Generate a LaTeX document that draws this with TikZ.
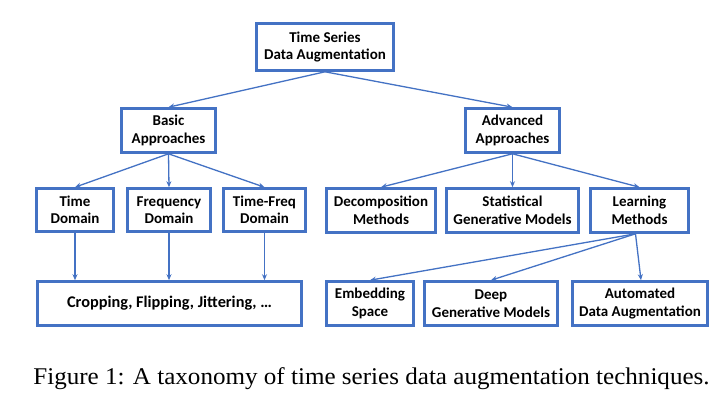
\documentclass[tikz,border=0pt]{standalone}
\usepackage{fontspec}
\setmainfont{Carlito}
\newfontfamily\capfont{Liberation Serif}
\usetikzlibrary{arrows.meta}
\definecolor{boxblue}{RGB}{68,114,196}
\begin{document}
\begin{tikzpicture}[x=1pt,y=-1pt,
  tbox/.style={draw=boxblue,line width=2.6pt,align=center,inner sep=0pt,
    font=\fontsize{15}{17.5}\selectfont\bfseries,text=black},
  conn/.style={draw=boxblue,line width=1.3pt,-{Stealth[length=6pt,width=5pt]}}]
\useasboundingbox (0,0) rectangle (720,409);
\fill[white] (0,0) rectangle (720,409);
\node[tbox,minimum width=137pt,minimum height=47pt] (top) at (325,47) {Time Series\\Data Augmentation};
\node[tbox,minimum width=94pt,minimum height=44pt] (basic) at (168.5,130.5) {Basic\\Approaches};
\node[tbox,minimum width=94pt,minimum height=44pt] (adv) at (512.5,130.5) {Advanced\\Approaches};
\node[tbox,minimum width=77pt,minimum height=43pt] (time) at (75,210) {Time\\Domain};
\node[tbox,minimum width=83pt,minimum height=43pt] (freq) at (169,210) {Frequency\\Domain};
\node[tbox,minimum width=82pt,minimum height=43pt] (tf) at (264.5,210) {Time-Freq\\Domain};
\node[tbox,minimum width=264pt,minimum height=44pt,font=\fontsize{16.3}{19}\selectfont\bfseries] (crop) at (169.5,303.5) {Cropping, Flipping, Jittering, …};
\node[tbox,minimum width=109pt,minimum height=44pt] (dec) at (381,210.5) {Decomposition\\Methods};
\node[tbox,minimum width=132pt,minimum height=44pt] (stat) at (512.5,210.5) {Statistical\\Generative Models};
\node[tbox,minimum width=98pt,minimum height=44pt] (learn) at (639.5,210.5) {Learning\\Methods};
\node[tbox,minimum width=87pt,minimum height=44pt] (emb) at (370,303.5) {Embedding\\Space};
\node[tbox,minimum width=133pt,minimum height=44pt] (deep) at (491,303.5) {Deep\\Generative Models};
\node[tbox,minimum width=135pt,minimum height=44pt] (auto) at (640,303.5) {Automated\\Data Augmentation};
\draw[conn] (top.south) -- (basic.north);
\draw[conn] (top.south) -- (adv.north);
\draw[conn] (basic.south) -- (time.north);
\draw[conn] (basic.south) -- (freq.north);
\draw[conn] (basic.south) -- (tf.north);
\draw[conn] (adv.south) -- (dec.north);
\draw[conn] (adv.south) -- (stat.north);
\draw[conn] (adv.south) -- (learn.north);
\draw[conn] (time.south) -- (time.south |- crop.north);
\draw[conn] (freq.south) -- (freq.south |- crop.north);
\draw[conn] (tf.south) -- (tf.south |- crop.north);
\draw[conn] ([xshift=-4pt]learn.south) -- (emb.north);
\draw[conn] ([xshift=-4pt]learn.south) -- (deep.north);
\draw[conn] ([xshift=-4pt]learn.south) -- ([xshift=1pt]auto.north);
\node[font=\capfont\fontsize{24}{28}\selectfont,inner sep=0pt,anchor=base,xscale=1.045] (cap) at (371.5,384) {Figure 1: A taxonomy of time series data augmentation techniques.};
\end{tikzpicture}
\end{document}
